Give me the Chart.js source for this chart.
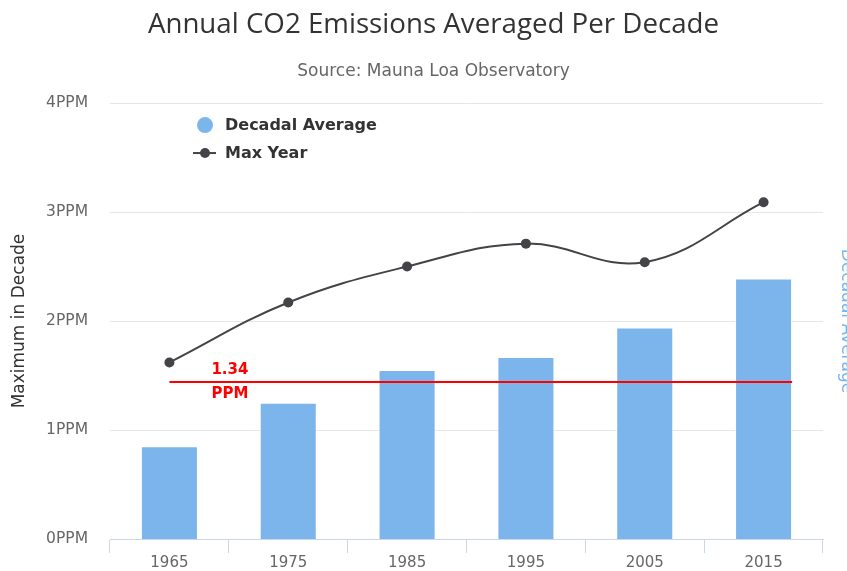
<!DOCTYPE html>
<html>
<head>
<meta charset="utf-8">
<script src="https://cdn.jsdelivr.net/npm/chart.js@4/dist/chart.umd.min.js"></script>
<style>
  html, body { margin: 0; padding: 0; background: #fff; }
  #wrap { width: 847px; height: 571px; position: relative; }
</style>
</head>
<body>
<div id="wrap"><canvas id="c"></canvas></div>
<script>
const categories = ['1965', '1975', '1985', '1995', '2005', '2015'];
const decadalAverage = [0.85, 1.25, 1.55, 1.67, 1.94, 2.39];
const maxYear = [1.62, 2.17, 2.50, 2.71, 2.54, 3.09];
const yTickValues = [0, 1, 2, 3, 4];
const yTickSuffix = 'PPM';
const thresholdValue = 1.44;
const thresholdLabel = ['1.34', 'PPM'];

const BAR_COLOR = '#7cb5ec';
const LINE_COLOR = '#434348';
const FONT = "'DejaVu Sans', sans-serif";

const legendPlugin = {
  id: 'customLegend',
  afterDraw(chart) {
    const ctx = chart.ctx;
    const area = chart.chartArea;
    const x0 = area.left + 95;
    const y0 = area.top + 22;
    ctx.save();
    ctx.font = "bold 16px " + FONT;
    ctx.textBaseline = 'middle';
    // bar series
    ctx.beginPath();
    ctx.fillStyle = BAR_COLOR;
    ctx.arc(x0, y0, 8, 0, Math.PI * 2);
    ctx.fill();
    ctx.fillStyle = '#333333';
    ctx.fillText(chart.data.datasets[0].label, x0 + 20, y0 + 1);
    // line series
    const y1 = y0 + 28;
    ctx.strokeStyle = LINE_COLOR;
    ctx.lineWidth = 2;
    ctx.beginPath();
    ctx.moveTo(x0 - 12, y1);
    ctx.lineTo(x0 + 11, y1);
    ctx.stroke();
    ctx.beginPath();
    ctx.fillStyle = LINE_COLOR;
    ctx.arc(x0, y1, 5, 0, Math.PI * 2);
    ctx.fill();
    ctx.fillStyle = '#333333';
    ctx.fillText(chart.data.datasets[1].label, x0 + 20, y1 + 1);
    ctx.restore();
  }
};

const thresholdPlugin = {
  id: 'threshold',
  afterDatasetsDraw(chart) {
    const ctx = chart.ctx;
    const xs = chart.scales.x;
    const ys = chart.scales.y;
    const meta = chart.getDatasetMeta(0);
    const lastBar = meta.data[meta.data.length - 1];
    const half = lastBar ? lastBar.width / 2 : 0;
    const xStart = xs.getPixelForValue(0);
    const xEnd = xs.getPixelForValue(categories.length - 1) + half;
    const y = Math.round(ys.getPixelForValue(thresholdValue));
    ctx.save();
    ctx.strokeStyle = '#ff0000';
    ctx.lineWidth = 2;
    ctx.beginPath();
    ctx.moveTo(xStart, y);
    ctx.lineTo(xEnd, y);
    ctx.stroke();
    ctx.fillStyle = '#ff0000';
    ctx.font = "bold 15px " + FONT;
    ctx.textBaseline = 'middle';
    ctx.textAlign = 'left';
    ctx.fillText(thresholdLabel[0], xStart + 42, y - 12);
    ctx.fillText(thresholdLabel[1], xStart + 42, y + 12);
    ctx.restore();
  }
};

new Chart(document.getElementById('c'), {
  type: 'bar',
  data: {
    labels: categories,
    datasets: [
      {
        type: 'bar',
        label: 'Decadal Average',
        data: decadalAverage,
        yAxisID: 'y1',
        backgroundColor: BAR_COLOR,
        borderColor: '#ffffff',
        borderWidth: 1,
        barPercentage: 1,
        categoryPercentage: 0.48,
        order: 2
      },
      {
        type: 'line',
        label: 'Max Year',
        data: maxYear,
        yAxisID: 'y',
        borderColor: LINE_COLOR,
        backgroundColor: LINE_COLOR,
        borderWidth: 2,
        pointRadius: 5,
        pointHoverRadius: 5,
        pointBackgroundColor: LINE_COLOR,
        pointBorderWidth: 0,
        tension: 0.4,
        fill: false,
        order: 1
      }
    ]
  },
  options: {
    responsive: true,
    maintainAspectRatio: false,
    animation: false,
    layout: { padding: { left: 20, right: 0, top: 0, bottom: 0 } },
    plugins: {
      legend: { display: false },
      tooltip: { enabled: false },
      title: {
        display: true,
        text: 'Annual CO2 Emissions Averaged Per Decade',
        color: '#333333',
        font: { family: "'Open Sans', sans-serif", size: 27.7, weight: 'normal', lineHeight: 1.2 },
        padding: { top: 8.9, bottom: 0 }
      },
      subtitle: {
        display: true,
        text: 'Source: Mauna Loa Observatory',
        color: '#666666',
        font: { family: FONT, size: 17, weight: 'normal', lineHeight: 1.2 },
        padding: { top: 19.7, bottom: 20.8 }
      }
    },
    scales: {
      x: {
        offset: true,
        grid: {
          display: true,
          offset: true,
          drawOnChartArea: false,
          drawTicks: true,
          tickLength: 14,
          color: '#ccd6eb',
          lineWidth: 1
        },
        border: { display: true, color: '#ccd6eb', width: 1 },
        ticks: { color: '#666666', font: { family: FONT, size: 15 }, padding: 1, maxRotation: 0 },
        afterFit(s) { s.height = 32; }
      },
      y: {
        position: 'left',
        min: 0,
        max: 4,
        afterBuildTicks(s) { s.ticks = yTickValues.map(v => ({ value: v })); },
        ticks: {
          color: '#666666',
          font: { family: FONT, size: 15.5 },
          padding: 22,
          callback: v => v + yTickSuffix
        },
        grid: { color: '#e6e6e6', lineWidth: 1, drawTicks: false },
        border: { display: false },
        title: {
          display: true,
          text: 'Maximum in Decade',
          color: '#333333',
          font: { family: FONT, size: 17, lineHeight: 1.2 },
          padding: { top: -10.2, bottom: 0 }
        },
        afterFit(s) { s.width = 90; }
      },
      y1: {
        position: 'right',
        min: 0,
        max: 4,
        ticks: { display: false },
        grid: { display: false, drawTicks: false },
        border: { display: false },
        title: {
          display: true,
          text: 'Decadal Average',
          color: BAR_COLOR,
          font: { family: FONT, size: 17, lineHeight: 1.2 },
          padding: { top: -9.2, bottom: 0 }
        },
        afterFit(s) { s.width = 24; }
      }
    }
  },
  plugins: [thresholdPlugin, legendPlugin]
});
</script>
</body>
</html>
